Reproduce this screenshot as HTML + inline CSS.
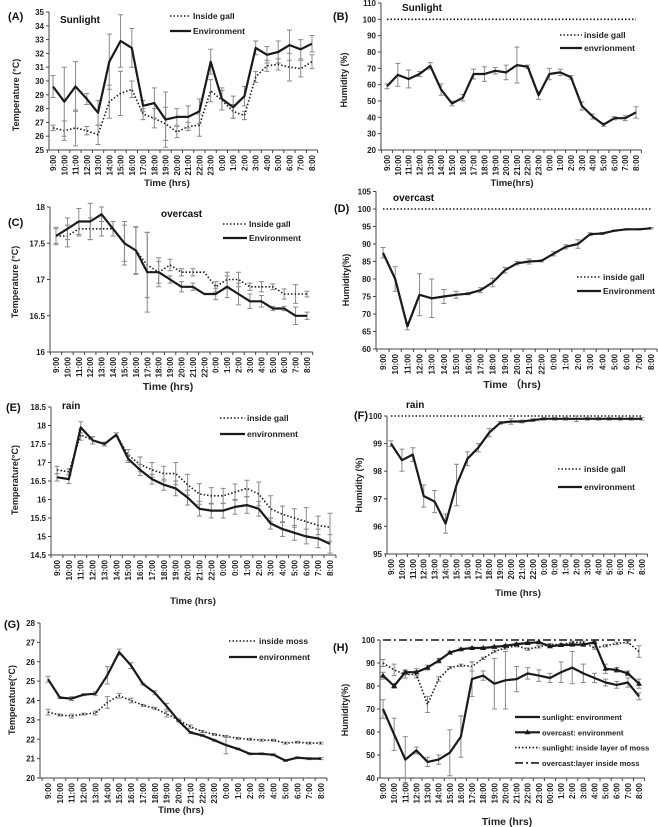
<!DOCTYPE html>
<html><head><meta charset="utf-8">
<style>
html,body{margin:0;padding:0;background:#fff;}
svg{display:block;font-family:"Liberation Sans",sans-serif;}
</style></head>
<body>
<svg id="fig" width="658" height="827" viewBox="0 0 658 827" xmlns="http://www.w3.org/2000/svg"></svg>
<script>
// ---------- data ----------
const hours24 = ["9:00","10:00","11:00","12:00","13:00","14:00","15:00","16:00","17:00","18:00","19:00","20:00","21:00","22:00","23:00","0:00","1:00","2:00","3:00","4:00","5:00","6:00","7:00","8:00"];
const hours23 = ["9:00","10:00","11:00","12:00","13:00","14:00","15:00","16:00","17:00","18:00","19:00","20:00","21:00","22:00","0:00","1:00","2:00","3:00","4:00","5:00","6:00","7:00","8:00"];
const hoursRain = ["9:00","10:00","11:00","12:00","13:00","14:00","15:00","16:00","17:00","18:00","19:00","20:00","21:00","22:00","0:00","0:00","1:00","2:00","3:00","4:00","5:00","6:00","7:00","8:00"];
const hoursH = ["9:00","10:00","11:00","12:00","13:00","14:00","15:00","16:00","17:00","18:00","19:00","20:00","21:00","22:00","23:00","00:00","1:00","2:00","3:00","4:00","5:00","6:00","7:00","8:00"];

const aEnv = [29.6,28.5,29.6,28.7,27.7,31.4,32.9,32.4,28.2,28.4,27.2,27.4,27.4,27.8,31.4,28.7,28.1,28.9,32.4,31.9,32.1,32.6,32.3,32.7];
const aEnvErr = [0.8,2.5,1.8,0.4,0.9,2,1.9,1.4,0.4,1.1,2,0.6,0.8,0.9,0.9,0.8,0.8,0.7,0.5,0.6,0.8,1.1,0.7,0.6];
const aIn = [26.6,26.4,26.6,26.4,26.1,28.5,29.1,29.4,27.6,27.3,26.9,26.3,26.7,26.8,29.3,28.6,27.8,27.5,30.3,31.1,31.2,31.0,30.9,31.4];
const aInErr = [0.2,0.7,1.3,0.3,0.7,1.2,1.6,0.6,0.4,0.7,1.2,0.4,0.3,0.8,0.8,0.7,0.5,0.3,0.4,0.4,0.4,1.0,0.6,0.5];

const bEnv = [59,66,63.5,66.5,71.5,57,48.5,52,66.5,66.5,68.5,67.5,72,71,53.5,66.5,67.5,64.5,47,40.5,35.5,39.5,39.5,43];
const bEnvErr = [1.5,7,5.5,1.5,2,3.5,1.5,2,3,4.5,2,4.5,11,1,2.5,3.5,2,1,2.5,1.5,1,1,1.5,3.5];
const bIn = [100,100,100,100,100,100,100,100,100,100,100,100,100,100,100,100,100,100,100,100,100,100,100,100];

const cEnv = [17.6,17.7,17.8,17.8,17.9,17.7,17.5,17.4,17.1,17.1,17.0,16.9,16.9,16.8,16.8,16.9,16.8,16.7,16.7,16.6,16.6,16.5,16.5];
const cEnvErr = [0.1,0.15,0.18,0.25,0.1,0.1,0.3,0.33,0.55,0.2,0.05,0.07,0.05,0,0.08,0.15,0.15,0.1,0.08,0.03,0.03,0.12,0.05];
const cIn = [17.6,17.6,17.7,17.7,17.7,17.7,17.5,17.4,17.2,17.1,17.2,17.1,17.1,17.1,16.9,17.0,17.0,16.9,16.9,16.9,16.8,16.8,16.8];
const cInErr = [0.12,0.15,0.1,0.15,0.1,0.1,0.25,0.32,0.45,0.15,0.08,0.05,0.05,0,0.07,0.1,0.1,0.05,0.07,0.04,0.07,0.13,0.04];

const dEnv = [87.5,80,66.5,75.5,74.5,75,75.5,75.8,76.8,79,82.5,84.5,85,85.2,87.2,89.2,90,92.8,93,93.8,94.2,94.2,94.5];
const dEnvErr = [1.5,3.5,1,6,5.5,2,1,0.3,0.7,1.2,0.8,0.5,0.7,0.3,0.6,0.6,1.2,0.4,0.3,0.2,0.2,0.2,0.2];
const dIn = [100,100,100,100,100,100,100,100,100,100,100,100,100,100,100,100,100,100,100,100,100,100,100];

const eEnv = [16.6,16.55,17.95,17.6,17.5,17.75,17.1,16.8,16.55,16.4,16.3,16.05,15.75,15.7,15.7,15.8,15.85,15.75,15.35,15.2,15.1,15.0,14.95,14.8];
const eEnvErr = [0.1,0.12,0.15,0.1,0.05,0.05,0.1,0.15,0.13,0.15,0.2,0.2,0.2,0.2,0.2,0.2,0.22,0.2,0.15,0.2,0.2,0.2,0.25,0.25];
const eIn = [16.8,16.75,17.75,17.6,17.5,17.75,17.2,16.95,16.8,16.7,16.7,16.4,16.15,16.1,16.1,16.2,16.3,16.15,15.75,15.6,15.5,15.4,15.3,15.25];
const eInErr = [0.1,0.08,0.15,0.1,0.05,0.05,0.15,0.2,0.2,0.2,0.3,0.28,0.28,0.22,0.2,0.22,0.22,0.32,0.35,0.22,0.25,0.38,0.25,0.38];

const fEnv = [99,98.4,98.6,97.1,96.9,96.1,97.5,98.45,98.85,99.4,99.75,99.8,99.8,99.85,99.9,99.9,99.9,99.9,99.9,99.9,99.9,99.9,99.9,99.9];
const fEnvErr = [0.1,0.4,0.25,0.4,0.4,0.35,0.75,0.25,0.15,0.15,0.05,0.1,0.05,0.05,0.05,0.05,0.05,0.1,0.05,0.05,0.05,0.05,0.05,0.05];
const fIn = [100,100,100,100,100,100,100,100,100,100,100,100,100,100,100,100,100,100,100,100,100,100,100,100];

const gEnv = [25.1,24.15,24.1,24.3,24.35,25.3,26.5,25.8,24.85,24.4,23.7,22.95,22.35,22.2,21.95,21.7,21.5,21.25,21.25,21.2,20.9,21.05,21.0,21.0];
const gEnvErr = [0.15,0.05,0.1,0.05,0.1,0.45,0.15,0.15,0.05,0.1,0.15,0.05,0.05,0.05,0.05,0.45,0.05,0.05,0.05,0.05,0.05,0.05,0.05,0.05];
const gIn = [23.4,23.25,23.2,23.3,23.35,23.9,24.25,24.0,23.75,23.6,23.3,23.0,22.65,22.4,22.25,22.15,22.05,22.0,21.95,21.95,21.8,21.85,21.8,21.8];
const gInErr = [0.15,0.05,0.1,0.05,0.1,0.3,0.12,0.12,0.05,0.05,0.15,0.05,0.08,0.05,0.05,0.05,0.05,0.05,0.05,0.05,0.05,0.05,0.05,0.05];

const hSunEnv = [70,59,48,52,47,48,51,58,83,84.5,81,82.5,83,85.5,84.5,83.5,86,88,85.5,83.5,81.5,80.5,81.5,75.5];
const hSunEnvErr = [4,7,10,1.5,2,2,10,9,7.5,2,11,12.5,5.5,2.5,2.5,2,4.5,7,4,2,1.5,1.5,2,1.5];
const hOvEnv = [84.5,80,86,86,88,91,94.5,96,96.5,96.5,97,97.5,98.2,98.7,99,97.3,97.8,98,98,99,87.5,87,85.5,81];
const hOvEnvErr = [1.5,1,1,1.5,1,1,0.5,0.5,0.5,0.5,0.5,0.5,0.5,0.5,0.5,0.5,0.5,0.5,0.5,0.5,2,1,1,2];
const hSunMoss = [90,87,85,85,72,83,88,89,88.5,92,95,96.5,97.5,96,97,98,98,99,99,96.5,97.5,98.5,99,95];
const hSunMossErr = [1.5,2.5,1.5,1.5,3.5,1,0.5,0.5,2,0.5,0.5,0.5,0.5,0.5,0.5,0.5,0.5,0.5,0.5,0.5,0.5,0.5,0.5,2.5];
const hOvMoss = [100,100,100,100,100,100,100,100,100,100,100,100,100,100,100,100,100,100,100,100,100,100,100,100];

// ---------- drawing ----------
const NS = "http://www.w3.org/2000/svg";
const svg = document.getElementById("fig");
function mk(tag, attrs, parent, txt) {
  const e = document.createElementNS(NS, tag);
  for (const k in attrs) e.setAttribute(k, attrs[k]);
  if (txt !== undefined) e.textContent = txt;
  (parent || svg).appendChild(e);
  return e;
}
const STY = {
  solid: {w: 2.2, dash: null},
  dot: {w: 1.6, dash: "1.5 2"},
  dashdot: {w: 1.6, dash: "8 3 2 3"}
};

function panel(p) {
  const g = mk("g", {});
  
  
  const n = p.labels.length;
  const sx = i => p.x0 + (p.x1 - p.x0) * i / (n - 1);
  const sy = v => p.yTop + (p.yMax - v) / (p.yMax - p.yMin) * (p.yBot - p.yTop);
  const step = (p.x1 - p.x0) / (n - 1);
  const ax = mk("line", {x1: p.ax, y1: sy(p.yMax), x2: p.ax, y2: p.yBot, stroke: "#444", "stroke-width": 1}, g);
  
  
  const xr = p.x1 + step / 2;
  const xa = mk("line", {x1: p.ax, y1: p.yBot, x2: xr, y2: p.yBot, stroke: "#444", "stroke-width": 1}, g);
  
  
  for (let v = p.yMin; v <= p.yMax + 1e-9; v += p.yStep) {
    const y = sy(v);
    mk("line", {x1: p.ax - 3, y1: y, x2: p.ax, y2: y, stroke: "#444"}, g);
    const t = mk("text", {x: p.ax - 5, y: y + 3, "text-anchor": "end", "font-size": 8, "font-weight": "bold", fill: "#222"}, g, String(Math.round(v * 10) / 10));
    
    
  }
  for (let i = 0; i < n; i++) {
    const x = sx(i);
    mk("line", {x1: x - step / 2, y1: p.yBot, x2: x - step / 2, y2: p.yBot + 3, stroke: "#444"}, g);
    const t = mk("text", {x: 0, y: 0, transform: `translate(${x + 3},${p.yBot + 5}) rotate(-90)`, "text-anchor": "end", "font-size": 8, "font-weight": "bold", fill: "#222"}, g, p.labels[i]);
    
    
  }
  mk("line", {x1: xr, y1: p.yBot, x2: xr, y2: p.yBot + 3, stroke: "#444"}, g);
  p.series.forEach(s => {
    const st = STY[s.style];
    if (s.err) {
      s.vals.forEach((v, i) => {
        if (!s.err[i]) return;
        const x = sx(i), y1 = sy(v + s.err[i]), y2 = sy(v - s.err[i]);
        const eb = mk("path", {d: `M${x},${y1}V${y2}M${x - 2.5},${y1}H${x + 2.5}M${x - 2.5},${y2}H${x + 2.5}`, stroke: "#8a8a8a", "stroke-width": 1, fill: "none"}, g);
        
        
      });
    }
    const pts = s.vals.map((v, i) => sx(i).toFixed(1) + "," + sy(v).toFixed(1)).join(" ");
    const a = {points: pts, fill: "none", stroke: "#1a1a1a", "stroke-width": st.w, "stroke-linejoin": "round"};
    if (st.dash) a["stroke-dasharray"] = st.dash;
    const pl = mk("polyline", a, g);
    
    
    if (s.marker) {
      s.vals.forEach((v, i) => {
        const x = sx(i), y = sy(v);
        const m = mk("path", {d: `M${x},${y - 3}L${x + 3},${y + 2}L${x - 3},${y + 2}Z`, fill: "#1a1a1a"}, g);
        
        
      });
    }
  });
  p.legend.forEach((L, k) => {
    const st = STY[L.style];
    const y = p.legY + k * p.legDy;
    const a = {x1: p.legX, y1: y, x2: p.legX + p.legW, y2: y, stroke: "#1a1a1a", "stroke-width": st.w};
    if (st.dash) a["stroke-dasharray"] = st.dash;
    const ln = mk("line", a, g);
    
    
    if (L.marker) mk("path", {d: `M${p.legX + p.legW / 2},${y - 3}l3,5h-6z`, fill: "#1a1a1a"}, g);
    const t = mk("text", {x: p.legX + p.legW + 2, y: y + 3, "font-size": p.legFs || 8.5, "font-weight": "bold", fill: "#222"}, g, L.text);
    
    
  });
  const tl = mk("text", {x: p.tagX, y: p.tagY, "font-size": 11, "font-weight": "bold", fill: "#111"}, g, p.tag);
  
  
  if (p.cond) {
    const c = mk("text", {x: p.condX, y: p.condY, "font-size": 10, "font-weight": "bold", fill: "#111"}, g, p.cond);
    
    
  }
  const xt = mk("text", {x: p.xtX, y: p.xtY, "text-anchor": "middle", "font-size": p.xtFs || 9.5, "font-weight": "bold", fill: "#222"}, g, p.xTitle);
  
  
  const yt = mk("text", {x: 0, y: 0, transform: `translate(${p.ytX},${p.ytY}) rotate(-90)`, "text-anchor": "middle", "font-size": 9, "font-weight": "bold", fill: "#222"}, g, p.yTitle);
  
  
}

panel({id: "a", labels: hours24, ax: 49, x0: 53, x1: 312, yTop: 12, yBot: 150, yMin: 25, yMax: 35, yStep: 1,
  series: [{name: "inside-gall-line", vals: aIn, err: aInErr, style: "dot"}, {name: "environment-line", vals: aEnv, err: aEnvErr, style: "solid"}],
  legend: [{text: "Inside gall", style: "dot"}, {text: "Environment", style: "solid"}], legX: 170, legY: 16, legDy: 15, legW: 21,
  tag: "(A)", tagX: 8, tagY: 20, cond: "Sunlight", condX: 60, condY: 23, xTitle: "Time  (hrs)", xtX: 167, xtY: 186, yTitle: "Temperature (°C)", ytX: 19, ytY: 95});

panel({id: "b", labels: hours24, ax: 381, x0: 387, x1: 636, yTop: 3, yBot: 150, yMin: 20, yMax: 110, yStep: 10,
  series: [{name: "inside-gall-line", vals: bIn, style: "dot"}, {name: "environment-line", vals: bEnv, err: bEnvErr, style: "solid"}],
  legend: [{text: "inside gall", style: "dot"}, {text: "envrionment", style: "solid"}], legX: 560, legY: 35, legDy: 13, legW: 22,
  tag: "(B)", tagX: 333, tagY: 20, cond: "Sunlight", condX: 402, condY: 11, xTitle: "Time(hrs)", xtX: 512, xtY: 186, yTitle: "Humidity  (%)", ytX: 347, ytY: 80});

panel({id: "c", labels: hours23, ax: 50, x0: 56, x1: 307, yTop: 207, yBot: 352, yMin: 16, yMax: 18, yStep: 0.5,
  series: [{name: "inside-gall-line", vals: cIn, err: cInErr, style: "dot"}, {name: "environment-line", vals: cEnv, err: cEnvErr, style: "solid"}],
  legend: [{text: "Inside gall", style: "dot"}, {text: "Environment", style: "solid"}], legX: 223, legY: 224, legDy: 14, legW: 24,
  tag: "(C)", tagX: 8, tagY: 226, cond: "overcast", condX: 161, condY: 217, xTitle: "Time (hrs)", xtX: 168, xtY: 390, xtFs: 10.5, yTitle: "Temperature (°C)", ytX: 18, ytY: 282});

panel({id: "d", labels: hours23, ax: 376, x0: 383, x1: 651, yTop: 191.5, yBot: 349, yMin: 60, yMax: 105, yStep: 5,
  series: [{name: "inside-gall-line", vals: dIn, style: "dot"}, {name: "environment-line", vals: dEnv, err: dEnvErr, style: "solid"}],
  legend: [{text: "inside gall", style: "dot"}, {text: "Environment", style: "solid"}], legX: 577, legY: 277, legDy: 14, legW: 24,
  tag: "(D)", tagX: 334, tagY: 212, cond: "overcast", condX: 393, condY: 201, xTitle: "Time  （hrs)", xtX: 512, xtY: 388, xtFs: 10.5, yTitle: "Humidity(%)", ytX: 349, ytY: 280});

panel({id: "e", labels: hoursRain, ax: 51, x0: 57, x1: 330, yTop: 407, yBot: 555, yMin: 14.5, yMax: 18.5, yStep: 0.5,
  series: [{name: "inside-gall-line", vals: eIn, err: eInErr, style: "dot"}, {name: "environment-line", vals: eEnv, err: eEnvErr, style: "solid"}],
  legend: [{text: "inside gall", style: "dot"}, {text: "environment", style: "solid"}], legX: 220, legY: 418, legDy: 16, legW: 25,
  tag: "(E)", tagX: 6, tagY: 411, cond: "rain", condX: 62, condY: 409, xTitle: "Time (hrs)", xtX: 193, xtY: 604, yTitle: "Temperature(°C)", ytX: 18, ytY: 480});

panel({id: "f", labels: hoursRain, ax: 387, x0: 391, x1: 642, yTop: 416, yBot: 554, yMin: 95, yMax: 100, yStep: 1,
  series: [{name: "inside-gall-line", vals: fIn, style: "dot"}, {name: "environment-line", vals: fEnv, err: fEnvErr, style: "solid"}],
  legend: [{text: "inside gall", style: "dot"}, {text: "environment", style: "solid"}], legX: 558, legY: 469, legDy: 18, legW: 24,
  tag: "(F)", tagX: 354, tagY: 419, cond: "rain", condX: 406, condY: 408, xTitle: "Time (hrs)", xtX: 518, xtY: 596, yTitle: "Humidity (%)", ytX: 362, ytY: 485});

panel({id: "g", labels: hours24, ax: 40, x0: 48, x1: 321, yTop: 623, yBot: 778, yMin: 20, yMax: 28, yStep: 1,
  series: [{name: "inside-moss-line", vals: gIn, err: gInErr, style: "dot"}, {name: "environment-line", vals: gEnv, err: gEnvErr, style: "solid"}],
  legend: [{text: "inside moss", style: "dot"}, {text: "environment", style: "solid"}], legX: 229, legY: 641, legDy: 16, legW: 28,
  tag: "(G)", tagX: 4, tagY: 628, cond: "", xTitle: "Time (hrs)", xtX: 181, xtY: 813, yTitle: "Temperature(°C)", ytX: 15, ytY: 700});

panel({id: "h", labels: hoursH, ax: 380, x0: 383, x1: 639, yTop: 640, yBot: 778, yMin: 40, yMax: 100, yStep: 10,
  series: [
    {name: "overcast-moss-line", vals: hOvMoss, style: "dashdot"},
    {name: "sunlight-moss-line", vals: hSunMoss, err: hSunMossErr, style: "dot"},
    {name: "overcast-environment-line", vals: hOvEnv, err: hOvEnvErr, style: "solid", marker: true},
    {name: "sunlight-environment-line", vals: hSunEnv, err: hSunEnvErr, style: "solid"}],
  legend: [{text: "sunlight: environment", style: "solid"}, {text: "overcast: environment", style: "solid", marker: true},
    {text: "sunlight: inside layer of moss", style: "dot"}, {text: "overcast:layer inside moss", style: "dashdot"}],
  legX: 515, legY: 717, legDy: 15.3, legW: 25, legFs: 7.6,
  tag: "(H)", tagX: 333, tagY: 651, cond: "", xTitle: "Time (hrs)", xtX: 507, xtY: 825, xtFs: 10.5, yTitle: "Humidity(%)", ytX: 348, ytY: 710});
</script>
</body></html>
